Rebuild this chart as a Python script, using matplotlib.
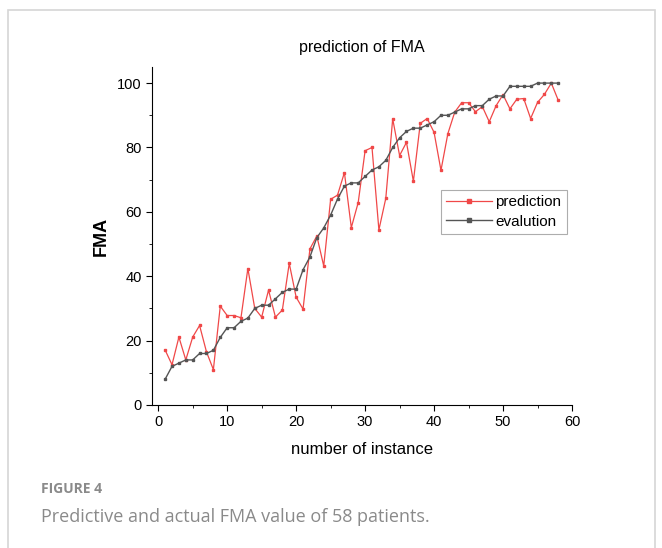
import numpy as np
import matplotlib
matplotlib.use("Agg")
import matplotlib.pyplot as plt
from matplotlib.patches import Rectangle

# valeurs (instances 1..58)
instances = list(range(1, 59))
prediction = [17.1, 12.5, 21.1, 14.0, 21.1, 24.7, 16.5, 11.0, 30.7, 27.8,
              27.8, 27.1, 42.4, 30.0, 27.3, 35.7, 27.3, 29.5, 44.0, 33.5,
              29.8, 48.5, 52.5, 43.2, 63.9, 65.2, 72.2, 55.1, 62.9, 79.0,
              80.0, 54.4, 64.2, 88.9, 77.5, 81.6, 69.5, 87.5, 89.0, 84.7,
              72.9, 84.3, 91.0, 93.9, 93.9, 91.1, 92.7, 88.0, 93.0, 96.4,
              92.0, 95.0, 95.2, 89.0, 94.0, 96.5, 100.0, 94.7]
evaluation = [8, 12, 13, 14, 14, 16, 16, 17, 21, 24,
              24, 26, 27, 30, 31, 31, 33, 35, 36, 36,
              42, 46, 52, 55, 59, 64, 68, 69, 69, 71,
              73, 74, 76, 80, 83, 85, 86, 86, 87, 88,
              90, 90, 91, 92, 92, 93, 93, 95, 96, 96,
              99, 99, 99, 99, 100, 100, 100, 100]

RED, DARK = "#f04848", "#555555"
W, H = 662, 548

plt.rcParams.update({"font.family": ["Liberation Sans", "DejaVu Sans"]})
fig = plt.figure(figsize=(W / 100, H / 100), dpi=100)

# cadre gris autour de la figure
fig.patches.append(Rectangle((8 / W, -0.1), (655 - 8) / W, 1.1 - 10 / H,
                             transform=fig.transFigure, fill=False,
                             edgecolor="#d6d6d6", lw=1.2))

ax = fig.add_axes([152 / W, 1 - 405 / H, (572 - 152) / W, (405 - 67) / H])
ax.plot(instances, prediction, "-s", color=RED, lw=0.9, ms=1.6, label="prediction")
ax.plot(instances, evaluation, "-s", color=DARK, lw=1.0, ms=1.6, label="evalution")

ax.set_xlim(-0.9, 60)
ax.set_ylim(0, 105)
ax.set_xticks(range(0, 61, 10))
ax.set_yticks(range(0, 101, 20))
ax.set_xticks(range(5, 60, 10), minor=True)
ax.set_yticks(range(10, 101, 20), minor=True)
for s in ["top", "right"]:
    ax.spines[s].set_visible(False)
ax.tick_params(which="major", direction="out", length=4, labelsize=10.5)
ax.tick_params(which="minor", direction="out", length=2.5)

ax.set_title("prediction of FMA", fontsize=11.5, pad=11)
ax.set_xlabel("number of instance", fontsize=12, labelpad=9)
ax.set_ylabel("FMA", fontsize=13, fontweight="bold", labelpad=5)

leg = ax.legend(loc="upper left", bbox_to_anchor=((441 - 152) / 420, (405 - 190) / 338),
                fontsize=11, frameon=True, fancybox=False, handlelength=3.0,
                handletextpad=0.2, borderpad=0.35, labelspacing=0.35,
                borderaxespad=0, markerscale=1.4)
leg.get_frame().set_edgecolor("#999999")
leg.get_frame().set_linewidth(0.8)

fig.text(41 / W, 1 - 489 / H, "FIGURE 4", fontsize=10, color="#8a8a8a",
         fontweight="bold", family=["Open Sans", "DejaVu Sans"], va="center")
fig.text(41 / W, 1 - 517 / H, "Predictive and actual FMA value of 58 patients.",
         fontsize=13, color="#8a8a8a", family=["Open Sans", "DejaVu Sans"], va="center")

fig.savefig("out.png", dpi=100)
